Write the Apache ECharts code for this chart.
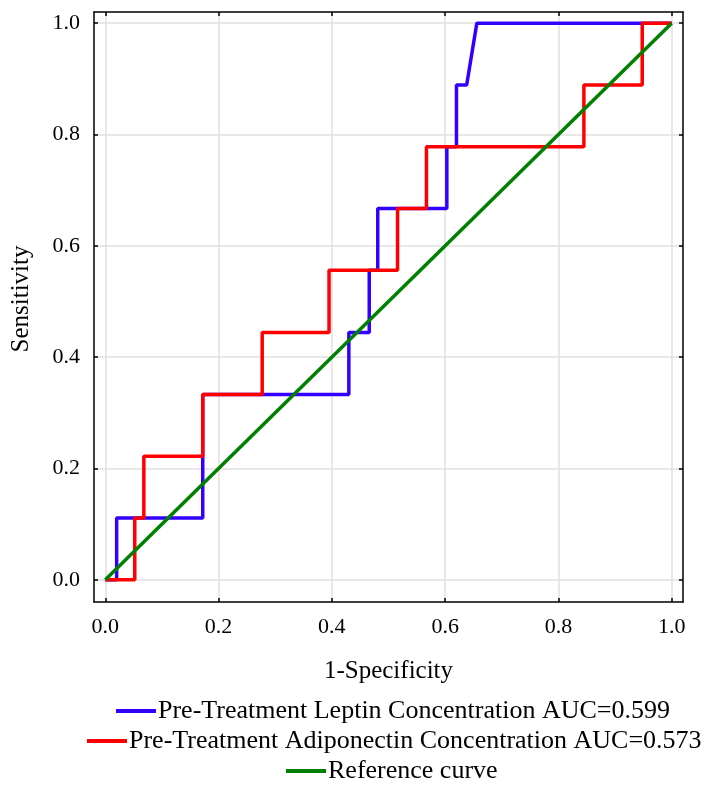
<!DOCTYPE html>
<html>
<head>
<meta charset="utf-8">
<script src="https://cdn.jsdelivr.net/npm/echarts@6/dist/echarts.min.js"></script>
<style>
html,body{margin:0;padding:0;background:#fff;}
#chart{width:711px;height:800px;}
</style>
</head>
<body>
<div id="chart"></div>
<script>
// ---- data ----
var tickValues = [0, 0.2, 0.4, 0.6, 0.8, 1.0];
var leptinName = 'Pre-Treatment Leptin Concentration AUC=0.599';
var adipoName = 'Pre-Treatment Adiponectin Concentration AUC=0.573';
var refName = 'Reference curve';
var leptinFpr = [0, 0.02, 0.02, 0.172, 0.172, 0.43, 0.43, 0.466, 0.466, 0.481, 0.481, 0.603, 0.603, 0.62, 0.62, 0.638, 0.656, 1.0];
var leptinTpr = [0, 0, 0.111, 0.111, 0.333, 0.333, 0.444, 0.444, 0.556, 0.556, 0.667, 0.667, 0.778, 0.778, 0.889, 0.889, 1.0, 1.0];
var adipoFpr = [0, 0.052, 0.052, 0.068, 0.068, 0.172, 0.172, 0.277, 0.277, 0.395, 0.395, 0.516, 0.516, 0.567, 0.567, 0.845, 0.845, 0.948, 0.948, 1.0];
var adipoTpr = [0, 0, 0.111, 0.111, 0.222, 0.222, 0.333, 0.333, 0.444, 0.444, 0.556, 0.556, 0.667, 0.667, 0.778, 0.778, 0.889, 0.889, 1.0, 1.0];
var refFpr = [0, 1];
var refTpr = [0, 1];

function pairs(xs, ys) { return xs.map(function (x, i) { return [x, ys[i]]; }); }

var FONT = 'Liberation Serif';
var LEGEND_FS = 26;
var chart = echarts.init(document.getElementById('chart'), null, {renderer: 'canvas'});

function fmt(v) { return v.toFixed(1); }

var measureCtx = document.createElement('canvas').getContext('2d');
measureCtx.font = LEGEND_FS + 'px "' + FONT + '"';
function legendLeft(text, centerX) {
  var w = 40 + 5 - 3 + measureCtx.measureText(text).width;
  return Math.round(centerX - w / 2);
}

var option = {
  animation: false,
  backgroundColor: '#fff',
  grid: {left: 94, top: 12, right: 28, bottom: 198, containLabel: false},
  xAxis: [{
    type: 'value', min: -0.02, max: 1.02, position: 'bottom',
    name: '1-Specificity', nameLocation: 'middle', nameGap: 57,
    nameTextStyle: {fontFamily: FONT, fontSize: 25, color: '#000'},
    axisLine: {show: true, onZero: false, lineStyle: {color: '#000', width: 1.5}},
    axisTick: {show: true, inside: true, length: 4, customValues: tickValues, lineStyle: {color: '#000', width: 1.5}},
    axisLabel: {customValues: tickValues, formatter: fmt, fontFamily: FONT, fontSize: 22, color: '#000', margin: 14},
    splitLine: {show: true, lineStyle: {color: '#e0e0e0', width: 1.5}}
  }, {
    type: 'value', min: -0.02, max: 1.02, position: 'top',
    axisLine: {show: true, onZero: false, lineStyle: {color: '#000', width: 1.5}},
    axisTick: {show: true, inside: true, length: 4, customValues: tickValues, lineStyle: {color: '#000', width: 1.5}},
    axisLabel: {show: false},
    splitLine: {show: false}
  }],
  yAxis: [{
    type: 'value', min: -0.04, max: 1.02, position: 'left',
    name: 'Sensitivity', nameLocation: 'middle', nameGap: 60,
    nameTextStyle: {fontFamily: FONT, fontSize: 25, color: '#000', padding: [0, 0, 0, 16]},
    axisLine: {show: true, onZero: false, lineStyle: {color: '#000', width: 1.5}},
    axisTick: {show: true, inside: true, length: 4, customValues: tickValues, lineStyle: {color: '#000', width: 1.5}},
    axisLabel: {customValues: tickValues, formatter: fmt, fontFamily: FONT, fontSize: 22, color: '#000', margin: 14},
    splitLine: {show: true, lineStyle: {color: '#e0e0e0', width: 1.5}}
  }, {
    type: 'value', min: -0.04, max: 1.02, position: 'right',
    axisLine: {show: true, onZero: false, lineStyle: {color: '#000', width: 1.5}},
    axisTick: {show: true, inside: true, length: 4, customValues: tickValues, lineStyle: {color: '#000', width: 1.5}},
    axisLabel: {show: false},
    splitLine: {show: false}
  }],
  legend: [
    {data: [leptinName], top: 697, left: legendLeft(leptinName, 393)},
    {data: [adipoName], top: 727, left: legendLeft(adipoName, 394)},
    {data: [refName], top: 757, left: legendLeft(refName, 392)}
  ].map(function (l) {
    return Object.assign({
      orient: 'horizontal', icon: 'rect', itemWidth: 40, itemHeight: 4,
      padding: 0, selectedMode: false,
      textStyle: {fontFamily: FONT, fontSize: LEGEND_FS, color: '#000', lineHeight: 28, padding: [0, 0, 0, -3]}
    }, l);
  }),
  series: [{
    name: leptinName, type: 'line', data: pairs(leptinFpr, leptinTpr), symbol: 'none',
    lineStyle: {color: '#3300ff', width: 3.5}, itemStyle: {color: '#3300ff'}, z: 2
  }, {
    name: adipoName, type: 'line', data: pairs(adipoFpr, adipoTpr), symbol: 'none',
    lineStyle: {color: '#ff0000', width: 3.5}, itemStyle: {color: '#ff0000'}, z: 3
  }, {
    name: refName, type: 'line', data: pairs(refFpr, refTpr), symbol: 'none',
    lineStyle: {color: '#008000', width: 3.5}, itemStyle: {color: '#008000'}, z: 4
  }]
};
chart.setOption(option);
</script>
</body>
</html>
